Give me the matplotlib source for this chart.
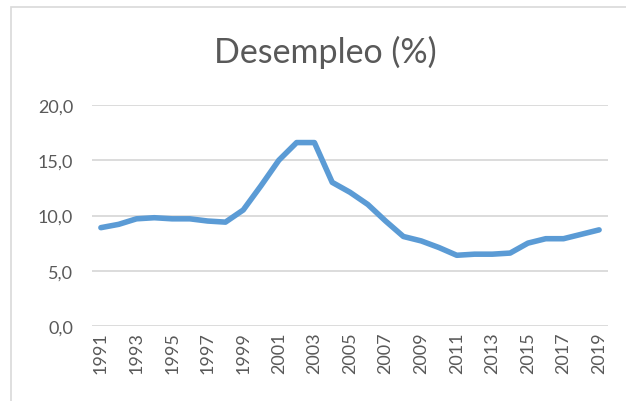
import matplotlib.pyplot as plt
from matplotlib.patches import Rectangle

# data
years = list(range(1991, 2020))
desempleo = [8.9, 9.2, 9.7, 9.8, 9.7, 9.7, 9.5, 9.4, 10.5, 12.7, 15.0, 16.6, 16.6,
             13.0, 12.1, 11.0, 9.5, 8.1, 7.7, 7.1, 6.4, 6.5, 6.5, 6.6, 7.5, 7.9,
             7.9, 8.3, 8.7]
yticks = [0, 5, 10, 15, 20]

plt.rcParams['font.family'] = ['Lato', 'DejaVu Sans']
gray = '#595959'

fig = plt.figure(figsize=(6.26, 4.02), dpi=100)
fig.patch.set_facecolor('white')

# chart frame (Excel-style border, cropped on right and bottom)
fig.patches.append(Rectangle((11 / 626, -0.05), 1.0, 1.05 - 8 / 402,
                             transform=fig.transFigure, fill=False,
                             edgecolor='#d9d9d9', linewidth=1.2))

ax = fig.add_axes([92 / 626, 75 / 402, 516 / 626, 221 / 402])
x = list(range(len(years)))
ax.plot(x, desempleo, color='#5B9BD5', linewidth=4, solid_capstyle='round',
        solid_joinstyle='round', zorder=3)

ax.set_xlim(-0.5, len(years) - 0.5)
ax.set_ylim(0, 20)
ax.set_yticks(yticks)
ax.set_yticklabels([f"{v:.1f}".replace('.', ',') for v in yticks])
ax.set_xticks(x[::2])
ax.set_xticklabels([str(y) for y in years[::2]], rotation=90, va='top', ha='center')

ax.tick_params(axis='y', length=0, pad=13.5, labelsize=13, labelcolor=gray)
ax.tick_params(axis='x', length=0, pad=4, labelsize=13, labelcolor=gray)
ax.grid(axis='y', color='#d9d9d9', linewidth=1.3)
ax.set_axisbelow(True)
for s in ax.spines.values():
    s.set_visible(False)

fig.text(325 / 626, (402 - 63) / 402, 'Desempleo (%)', ha='center', va='baseline',
         fontsize=24.5, color=gray)

fig.savefig('out.png', dpi=100)
